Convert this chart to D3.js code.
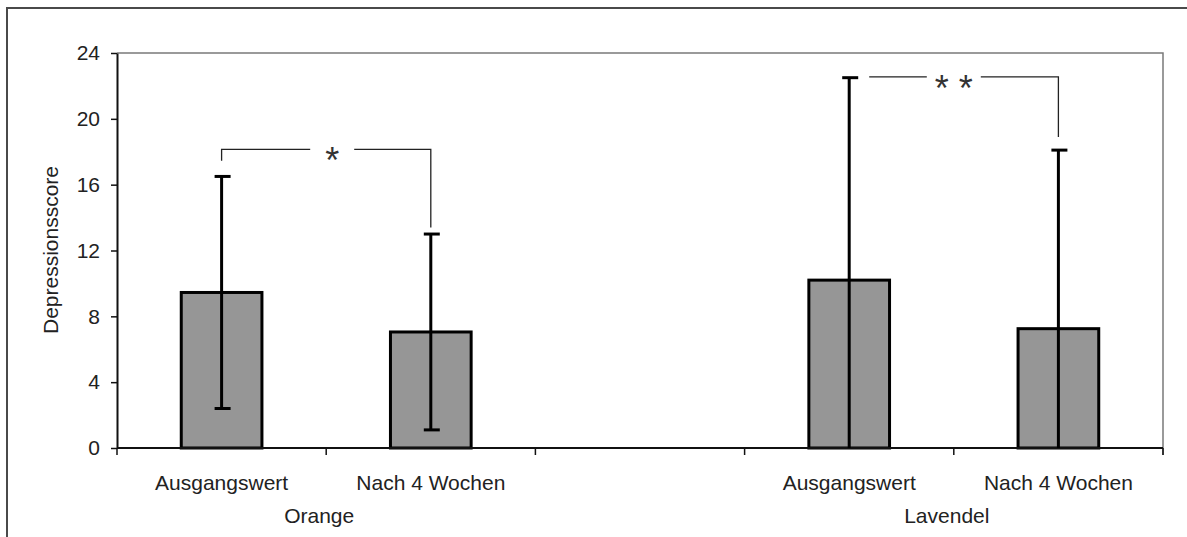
<!DOCTYPE html>
<html><head><meta charset="utf-8">
<script src="https://cdn.jsdelivr.net/npm/d3@7"></script>
<style>body{margin:0;background:#fff;} text{font-family:"Liberation Sans",Arial,sans-serif;}</style>
</head><body><svg id="c" width="1187" height="537"></svg>
<script>
// ---- data ----
const groups = ["Orange", "Lavendel"];
const categories = ["Ausgangswert", "Nach 4 Wochen", "", "Ausgangswert", "Nach 4 Wochen"];
const categoryGroup = ["Orange", "Orange", null, "Lavendel", "Lavendel"];
const means = [9.45, 7.05, null, 10.2, 7.25];
const sds = [7.05, 5.95, null, 12.3, 10.85];
const yTicks = [0, 4, 8, 12, 16, 20, 24];
const yTitle = "Depressionsscore";
const brackets = [
  {from: 0, to: 1, level: 18.15, leftDrop: 17.45, rightDrop: 13.4, label: "*"},
  {from: 3, to: 4, level: 22.55, leftDrop: null, rightDrop: 18.9, label: "* *"}
];

// ---- layout ----
const svg = d3.select("#c");
const L = 117, R = 1163, T = 53, B = 448;
const FS = 21;
const x = d3.scaleBand().domain(d3.range(categories.length)).range([L, R]).padding(0);
const y = d3.scaleLinear().domain([0, 24]).range([B, T]);
const bw = x.bandwidth() * 0.40;
const cx = i => x(i) + x.bandwidth() / 2;

// outer frame
svg.append("path").attr("d", `M7,537V8H1187`).attr("fill", "none").attr("stroke", "#4a4a4a").attr("stroke-width", 2);

// plot frame top/right (gray)
svg.append("path").attr("d", `M${L},${T}H${R}V${B + 7}`).attr("fill", "none").attr("stroke", "#7a7a7a").attr("stroke-width", 1.5);

// y axis
const ya = svg.append("g").attr("transform", `translate(${L},0)`)
  .call(d3.axisLeft(y).tickValues(yTicks).tickSize(6).tickSizeOuter(0).tickPadding(11).tickFormat(d3.format("d")));
ya.select(".domain").attr("stroke", "#111").attr("stroke-width", 2);
ya.selectAll(".tick line").attr("stroke", "#111").attr("stroke-width", 1.5);
ya.selectAll("text").attr("font-size", FS).attr("fill", "#222").attr("font-family", "Liberation Sans, Arial, sans-serif");

// y title
svg.append("text").attr("transform", `translate(58,250) rotate(-90)`).attr("text-anchor", "middle")
  .attr("font-size", FS).attr("fill", "#222").text(yTitle);

// bars
svg.append("g").selectAll("rect").data(d3.range(categories.length).filter(i => means[i] != null)).join("rect")
  .attr("x", i => cx(i) - bw / 2 + 1.5).attr("width", bw - 3)
  .attr("y", i => y(means[i])).attr("height", i => B - y(means[i]))
  .attr("fill", "#969696").attr("stroke", "#000").attr("stroke-width", 3);

// x axis
const xa = svg.append("g").attr("transform", `translate(0,${B})`)
  .call(d3.axisBottom(x).tickSize(0).tickPadding(27).tickFormat(i => categories[i]));
xa.select(".domain").remove();
xa.selectAll("text").attr("font-size", FS).attr("fill", "#222").attr("font-family", "Liberation Sans, Arial, sans-serif");
svg.append("line").attr("x1", L).attr("x2", R).attr("y1", B).attr("y2", B).attr("stroke", "#111").attr("stroke-width", 2);
svg.append("g").selectAll("line").data(d3.range(categories.length + 1)).join("line")
  .attr("x1", i => L + i * x.bandwidth()).attr("x2", i => L + i * x.bandwidth())
  .attr("y1", B).attr("y2", B + 7).attr("stroke", "#111").attr("stroke-width", 1.5);

// group labels
groups.forEach(g => {
  const idx = d3.range(categories.length).filter(i => categoryGroup[i] === g);
  const mid = d3.mean(idx, cx) - 7;
  svg.append("text").attr("x", mid).attr("y", 523).attr("text-anchor", "middle")
    .attr("font-size", FS).attr("fill", "#222").text(g);
});

// error bars
const eg = svg.append("g").attr("stroke", "#000").attr("stroke-width", 3);
d3.range(categories.length).filter(i => means[i] != null).forEach(i => {
  const hi = means[i] + sds[i], loRaw = means[i] - sds[i], lo = Math.max(0, loRaw);
  const xc = cx(i);
  eg.append("line").attr("x1", xc).attr("x2", xc).attr("y1", y(hi)).attr("y2", y(lo));
  eg.append("line").attr("x1", xc - 7).attr("x2", xc + 9).attr("y1", y(hi)).attr("y2", y(hi));
  if (loRaw >= 0) eg.append("line").attr("x1", xc - 7).attr("x2", xc + 9).attr("y1", y(lo)).attr("y2", y(lo));
});

// significance brackets
brackets.forEach(b => {
  const x1 = cx(b.from) + (b.leftDrop == null ? 20 : 0), x2 = cx(b.to);
  const yl = y(b.level);
  const mid = (cx(b.from) + x2) / 2 + (b.label.length === 1 ? 6 : 0);
  const gap = b.label.length === 1 ? 22 : 27;
  const g = svg.append("g").attr("stroke", "#222").attr("stroke-width", 1.3).attr("fill", "none");
  let p = "";
  if (b.leftDrop != null) p += `M${x1},${y(b.leftDrop)}V${yl}H${mid - gap}`;
  else p += `M${x1},${yl}H${mid - gap}`;
  p += `M${mid + gap},${yl}H${x2}V${y(b.rightDrop)}`;
  g.append("path").attr("d", p);
  svg.append("text").attr("x", mid).attr("y", yl + 24).attr("text-anchor", "middle")
    .attr("font-size", 36).attr("fill", "#333").text(b.label);
});
</script></body></html>
